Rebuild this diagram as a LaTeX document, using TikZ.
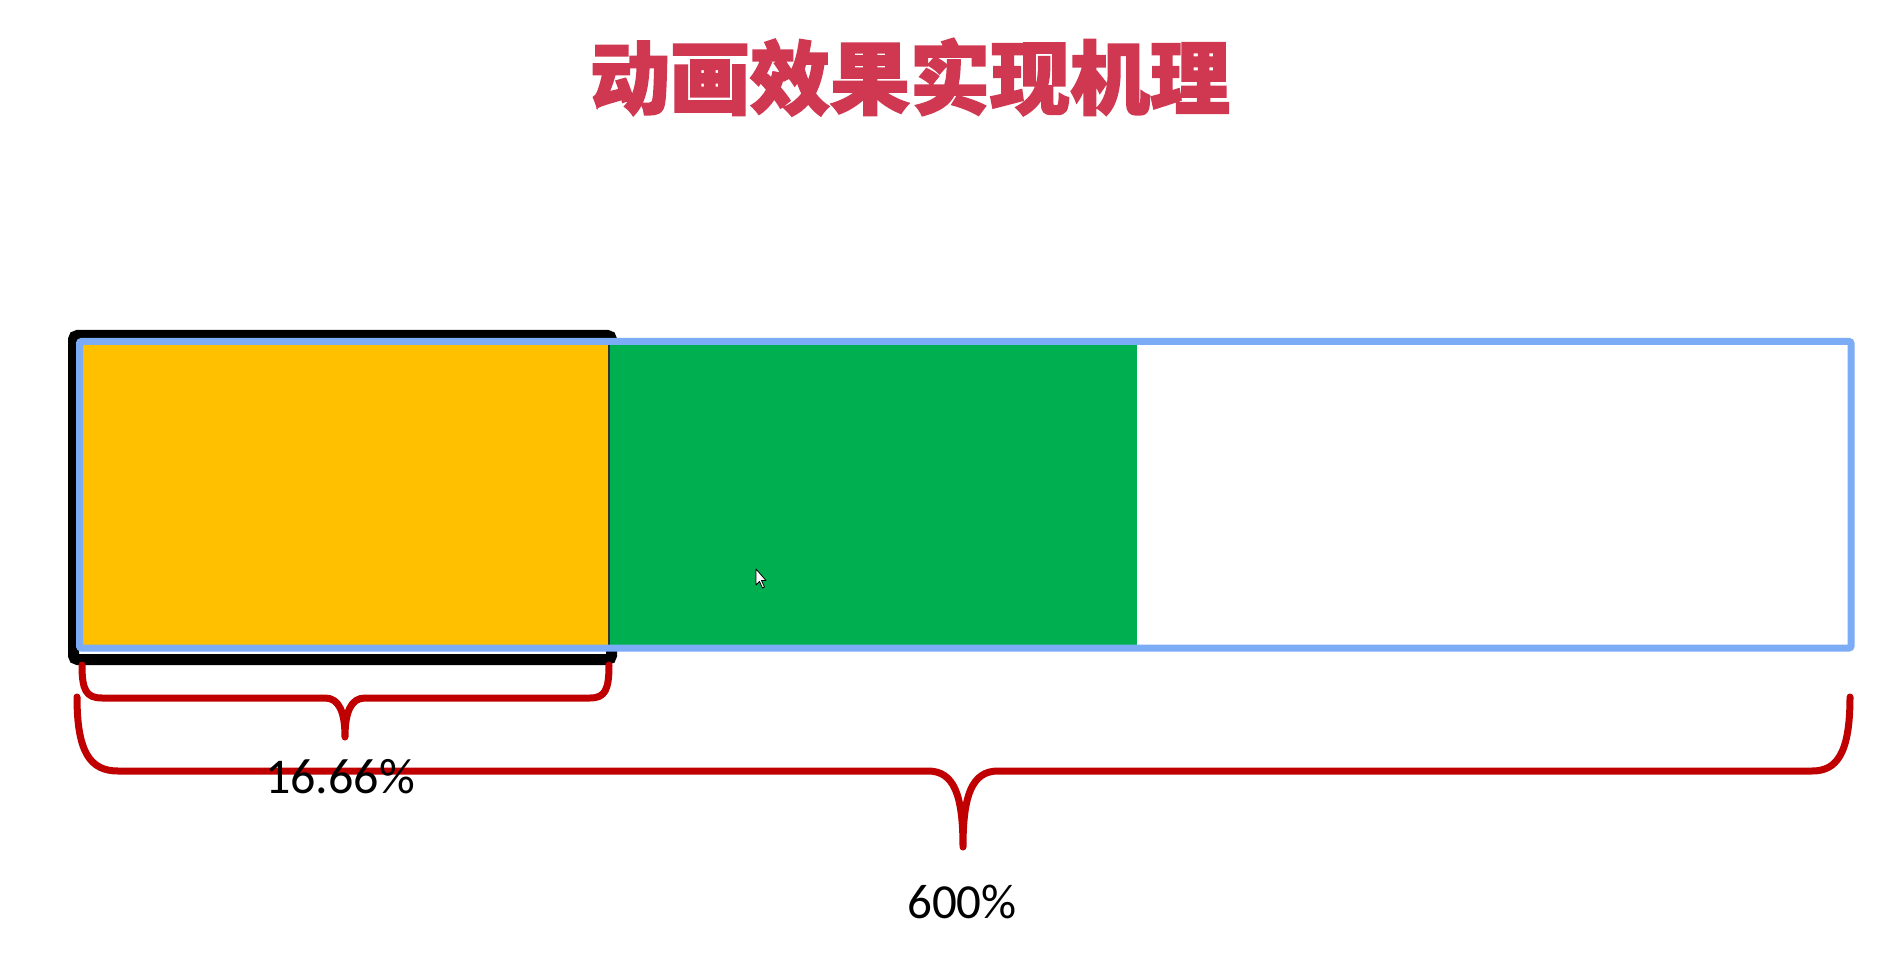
\documentclass[tikz,border=0pt]{standalone}
\usepackage{fontspec}
\setmainfont{Carlito}
\newfontfamily\cjk{Noto Sans CJK SC}[BoldFeatures={FakeBold=2.2}]
\definecolor{titlered}{RGB}{208,56,82}
\definecolor{barblue}{RGB}{124,172,246}
\definecolor{baryellow}{RGB}{255,192,0}
\definecolor{bargreen}{RGB}{0,176,80}
\definecolor{bracered}{RGB}{192,0,0}
\tikzset{
  bracestyle/.style={draw=bracered, line width=7pt, line cap=round, line join=round},
  pct/.style={anchor=base, inner sep=0pt, font=\fontsize{50}{60}\selectfont, text=black},
}
\begin{document}
\begin{tikzpicture}[x=1pt,y=-1pt]
\useasboundingbox[fill=white] (0,0) rectangle (1888,968);
% title
\node[anchor=base, inner sep=0pt, text=titlered, font=\cjk\bfseries\fontsize{80}{90}\selectfont] (title) at (910,108) {动画效果实现机理};
% black viewport frame
\draw[line width=11pt, rounded corners=4pt] (73.5,335.5) rectangle (611.5,659.5);
% fills
\fill[baryellow] (78,340) rectangle (609,648);
\fill[bargreen] (609,340) rectangle (1137,648);
\draw[line width=1.2pt, black!80] (609,341) -- (609,647);
% blue outline
\draw[barblue, line width=7pt, rounded corners=2pt] (79.5,341.5) rectangle (1851,648);
% named coordinates
\coordinate (sL) at (82,665);
\coordinate (sR) at (609,665);
\coordinate (sT) at (345,737);
\coordinate (bL) at (77,697);
\coordinate (bR) at (1850,697);
\coordinate (bT) at (963,847);
% small brace
\draw[bracestyle] (sL) .. controls (82,690) and (86,698) .. (102,698)
  -- (325,698) .. controls (339,698) and (345,712) .. (sT)
  .. controls (345,712) and (351,698) .. (365,698)
  -- (590,698) .. controls (605,698) and (609,690) .. (sR);
% big brace
\draw[bracestyle] (bL) .. controls (77,752) and (90,771) .. (118,771)
  -- (928,771) .. controls (954,771) and (963,795) .. (bT)
  .. controls (963,795) and (972,771) .. (998,771)
  -- (1812,771) .. controls (1836,771) and (1850,755) .. (bR);
% labels
\node[pct] (p1) at (340,793) {16.66\%};
\node[pct, font=\fontsize{49}{59}\selectfont] (p2) at (962,918) {600\%};
% mouse cursor
\draw[fill=white, draw=black, line width=0.8pt, line join=round]
  (756,569) -- (756,585) -- (759.5,581.5) -- (762.5,588) -- (764.5,587) -- (761.5,580.5) -- (766,580.5) -- cycle;
\end{tikzpicture}
\end{document}
